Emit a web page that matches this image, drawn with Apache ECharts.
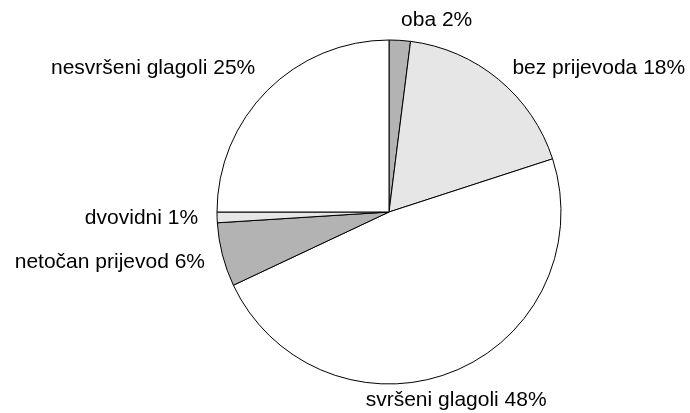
<!DOCTYPE html>
<html>
<head>
<meta charset="utf-8">
<script src="https://cdn.jsdelivr.net/npm/echarts@6/dist/echarts.min.js"></script>
<style>
  html, body { margin: 0; padding: 0; background: #fff; }
  #chart { width: 690px; height: 413px; }
</style>
</head>
<body>
<div id="chart"></div>
<script>
// podaci (redom u smjeru kazaljke, od vrha)
var categories = ['oba', 'bez prijevoda', 'svršeni glagoli', 'netočan prijevod', 'dvovidni', 'nesvršeni glagoli'];
var values = [2, 18, 48, 6, 1, 25];
var fills = ['#b3b3b3', '#e6e6e6', '#ffffff', '#b3b3b3', '#e6e6e6', '#ffffff'];
// pomak natpisa (px) da sjednu kao na originalu
var labelShiftX = [-5, -4, -99, 7, 6, 7];
var labelShiftY = [0, 4, 10, 2, 0, -8];

var pieData = [];
for (var i = 0; i < categories.length; i++) {
  pieData.push({
    name: categories[i],
    value: values[i],
    itemStyle: { color: fills[i] }
  });
}

var myChart = echarts.init(document.getElementById('chart'));
myChart.setOption({
  animation: false,
  series: [{
    type: 'pie',
    center: [389, 212],
    radius: 172,
    startAngle: 90,
    clockwise: true,
    avoidLabelOverlap: false,
    itemStyle: { borderColor: '#000', borderWidth: 1 },
    label: {
      show: true,
      position: 'outside',
      formatter: '{b} {c}%',
      fontFamily: 'Liberation Sans',
      fontSize: 21,
      color: '#000'
    },
    labelLine: { show: false, length: 20, length2: 0 },
    labelLayout: function (params) {
      return { dx: labelShiftX[params.dataIndex], dy: labelShiftY[params.dataIndex] };
    },
    emphasis: { disabled: true },
    data: pieData
  }]
});
</script>
</body>
</html>
